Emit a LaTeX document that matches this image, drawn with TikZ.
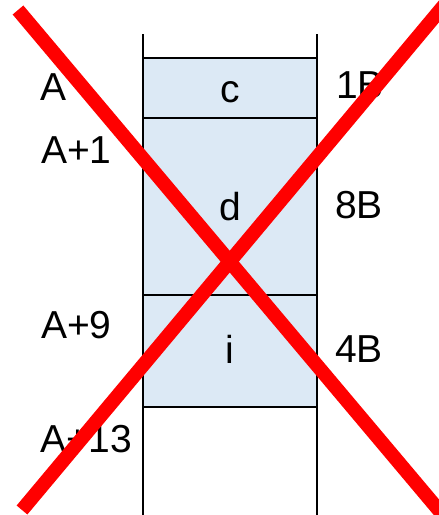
\documentclass[tikz,border=0pt]{standalone}
\usepackage{fontspec}
\setmainfont{Liberation Sans}
\definecolor{cellblue}{HTML}{DCE9F5}
\definecolor{xred}{HTML}{FF0000}
\begin{document}
\begin{tikzpicture}[x=1pt,y=-1pt,
  cell/.style={draw=black, line width=1.5pt, fill=cellblue, minimum width=174pt, inner sep=0pt, outer sep=0pt},
  rail/.style={draw=black, line width=1.5pt},
  lbl/.style={anchor=base west, inner sep=0pt, font=\fontsize{39}{41}\selectfont},
  clbl/.style={anchor=base, inner sep=0pt, font=\fontsize{39}{41}\selectfont},
  redx/.style={draw=xred, line width=14pt, line cap=butt}]
\useasboundingbox (0,0) rectangle (439,515);
\clip (0,0) rectangle (439,515);
% rails
\coordinate (lt) at (143,34);
\coordinate (lb) at (143,515);
\coordinate (rt) at (317,34);
\coordinate (rb) at (317,515);
% cells
\node[cell, minimum height=60pt] (c) at (230,88) {};
\node[cell, minimum height=177pt] (d) at (230,206.5) {};
\node[cell, minimum height=112pt] (i) at (230,351) {};
\draw[rail] (lt) -- (lb);
\draw[rail] (rt) -- (rb);
% cell labels
\node[clbl] (tc) at (230,102) {c};
\node[clbl] (td) at (230,220) {d};
\node[clbl] (ti) at (230,363) {i};
% address labels
\node[lbl] (a0) at (40,100) {A};
\node[lbl] (a1) at (41,163) {A+1};
\node[lbl] (a9) at (41,338) {A+9};
\node[lbl] (a13) at (40,452) {A+13};
% size labels
\node[lbl] (s1) at (336,98) {1B};
\node[lbl] (s8) at (335,218) {8B};
\node[lbl] (s4) at (335,362) {4B};
% red cross
\coordinate (x1a) at (18,10);
\coordinate (x1b) at (448,521);
\coordinate (x2a) at (22,510);
\coordinate (x2b) at (446,3);
\draw[redx] (x1a) -- (x1b);
\draw[redx] (x2a) -- (x2b);
\end{tikzpicture}
\end{document}
